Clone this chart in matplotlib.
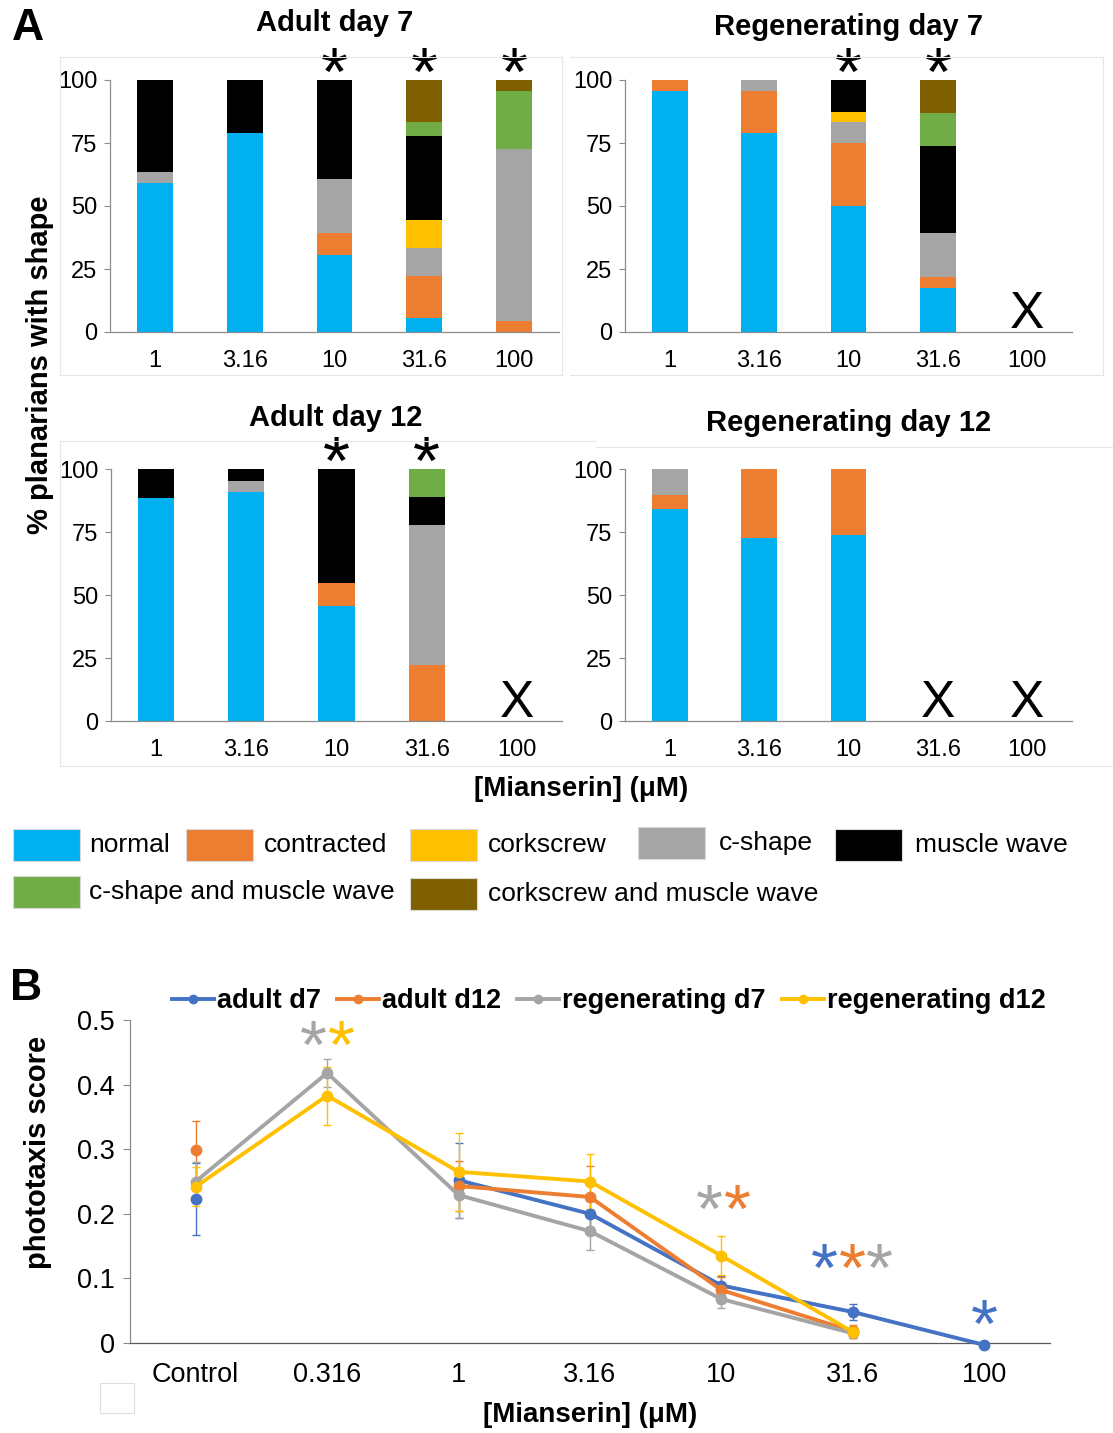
import matplotlib
matplotlib.use('Agg')
import matplotlib.pyplot as plt
import numpy as np
from matplotlib.patches import Rectangle
from matplotlib.lines import Line2D
from matplotlib.transforms import offset_copy

plt.rcParams['font.family'] = ['Liberation Sans', 'DejaVu Sans']

# ---------------- data ----------------
concentrations = ['1', '3.16', '10', '31.6', '100']
shape_names = ['normal', 'contracted', 'c-shape', 'corkscrew', 'muscle wave',
               'c-shape and muscle wave', 'corkscrew and muscle wave']
shape_colors = ['#00B0F0', '#ED7D31', '#A5A5A5', '#FFC000', '#000000',
                '#70AD47', '#7F6000']

adult_d7 = {
    'normal':                    [59.1, 78.9, 30.4, 5.6, 0],
    'contracted':                [0, 0, 8.7, 16.7, 4.5],
    'c-shape':                   [4.5, 0, 21.7, 11.1, 68.2],
    'corkscrew':                 [0, 0, 0, 11.1, 0],
    'muscle wave':               [36.4, 21.1, 39.2, 33.3, 0],
    'c-shape and muscle wave':   [0, 0, 0, 5.6, 22.8],
    'corkscrew and muscle wave': [0, 0, 0, 16.6, 4.5],
}
regen_d7 = {
    'normal':                    [95.7, 79.0, 50.0, 17.4, 0],
    'contracted':                [4.3, 16.6, 25.0, 4.3, 0],
    'c-shape':                   [0, 4.4, 8.3, 17.4, 0],
    'corkscrew':                 [0, 0, 4.2, 0, 0],
    'muscle wave':               [0, 0, 12.5, 34.8, 0],
    'c-shape and muscle wave':   [0, 0, 0, 13.0, 0],
    'corkscrew and muscle wave': [0, 0, 0, 13.1, 0],
}
adult_d12 = {
    'normal':                    [88.5, 90.9, 45.5, 0, 0],
    'contracted':                [0, 0, 9.1, 22.2, 0],
    'c-shape':                   [0, 4.5, 0, 55.6, 0],
    'corkscrew':                 [0, 0, 0, 0, 0],
    'muscle wave':               [11.5, 4.6, 45.4, 11.1, 0],
    'c-shape and muscle wave':   [0, 0, 0, 11.1, 0],
    'corkscrew and muscle wave': [0, 0, 0, 0, 0],
}
regen_d12 = {
    'normal':                    [84.2, 72.7, 73.9, 0, 0],
    'contracted':                [5.3, 27.3, 26.1, 0, 0],
    'c-shape':                   [10.5, 0, 0, 0, 0],
    'corkscrew':                 [0, 0, 0, 0, 0],
    'muscle wave':               [0, 0, 0, 0, 0],
    'c-shape and muscle wave':   [0, 0, 0, 0, 0],
    'corkscrew and muscle wave': [0, 0, 0, 0, 0],
}

doses = ['Control', '0.316', '1', '3.16', '10', '31.6', '100']
series_names = ['adult d7', 'adult d12', 'regenerating d7', 'regenerating d12']
series_colors = ['#4472C4', '#ED7D31', '#A5A5A5', '#FFC000']
adult_d7_score = [0.223, np.nan, 0.252, 0.200, 0.089, 0.048, -0.003]
adult_d7_err = [0.056, np.nan, 0.058, 0.020, 0.015, 0.012, 0.0]
adult_d12_score = [0.298, np.nan, 0.243, 0.226, 0.082, 0.018, np.nan]
adult_d12_err = [0.046, np.nan, 0.038, 0.048, 0.020, 0.010, np.nan]
regen_d7_score = [0.250, 0.418, 0.229, 0.173, 0.068, 0.015, np.nan]
regen_d7_err = [0.030, 0.022, 0.036, 0.029, 0.014, 0.008, np.nan]
regen_d12_score = [0.242, 0.383, 0.265, 0.250, 0.135, 0.017, np.nan]
regen_d12_err = [0.030, 0.045, 0.060, 0.043, 0.030, 0.010, np.nan]

# ---------------- layout helpers ----------------
W, H = 1113, 1433
fig = plt.figure(figsize=(W / 100, H / 100), dpi=100)


def fx(x):
    return x / W


def fy(y):
    return 1 - y / H


def axrect(x0, y0, x1, y1):
    return [fx(x0), fy(y1), (x1 - x0) / W, (y1 - y0) / H]


STAR_FS = 50


def star(ax, x, y, color, fs=STAR_FS):
    # place the visual centre of the asterisk at (x, y) in data coords
    tr = offset_copy(ax.transData, fig=fig, y=-0.5 * fs, units='points')
    ax.text(x, y, '*', transform=tr, ha='center', va='baseline',
            fontsize=fs, color=color, clip_on=False)


# faint chart-area frames (drawn as line segments)
FRAME = '#e6e6e6'
frame_segments = [
    # adult day 7
    [(60, 57), (562, 57)], [(60, 57), (60, 375)], [(562, 57), (562, 375)],
    [(60, 375), (562, 375)],
    # regenerating day 7
    [(570, 57), (1103, 57)], [(1103, 57), (1103, 375)], [(570, 375), (1103, 375)],
    # adult day 12
    [(60, 441), (596, 441)], [(60, 441), (60, 766)], [(60, 766), (596, 766)],
    # regenerating day 12
    [(596, 447), (1113, 447)], [(596, 766), (1113, 766)],
]
for (a, b) in frame_segments:
    fig.add_artist(Line2D([fx(a[0]), fx(b[0])], [fy(a[1]), fy(b[1])],
                          transform=fig.transFigure, color=FRAME, lw=0.8))
fig.add_artist(Rectangle((fx(100), fy(1413)), 34 / W, 30 / H,
                         transform=fig.transFigure, fill=False,
                         edgecolor='#dedede', linewidth=0.8))


def bar_panel(rect, title, title_xy, data, stars, xmarks):
    ax = fig.add_axes(rect)
    ax.patch.set_alpha(0)
    x = np.arange(len(concentrations))
    bottom = np.zeros(len(concentrations))
    for name, color in zip(shape_names, shape_colors):
        vals = np.array(data[name], dtype=float)
        ax.bar(x, vals, 0.4, bottom=bottom, color=color, linewidth=0)
        bottom += vals
    ax.set_xlim(-0.5, 4.5)
    ax.set_ylim(0, 100)
    ax.set_yticks([0, 25, 50, 75, 100])
    ax.set_xticks(x)
    ax.set_xticklabels(concentrations)
    ax.tick_params(axis='x', length=0, pad=13, labelsize=17)
    ax.tick_params(axis='y', length=4, width=0.8, color='#8c8c8c',
                   labelsize=17, pad=5)
    for s in ['top', 'right']:
        ax.spines[s].set_visible(False)
    for s in ['left', 'bottom']:
        ax.spines[s].set_color('#8c8c8c')
        ax.spines[s].set_linewidth(0.9)
    for i in stars:
        star(ax, i, 108, 'black')
    for i in xmarks:
        ax.text(i, 1.6, 'X', ha='center', va='baseline', fontsize=37,
                color='black')
    fig.text(fx(title_xy[0]), fy(title_xy[1]), title, ha='center',
             va='center', fontsize=21, fontweight='bold')
    return ax


bar_panel(axrect(110, 80, 559, 332), 'Adult day 7', (335, 23), adult_d7,
          [2, 3, 4], [])
bar_panel(axrect(625, 80, 1072, 332), 'Regenerating day 7', (849, 27),
          regen_d7, [2, 3], [4])
bar_panel(axrect(111, 469, 562, 721), 'Adult day 12', (336, 418),
          adult_d12, [2, 3], [4])
bar_panel(axrect(625, 469, 1072, 721), 'Regenerating day 12', (849, 423),
          regen_d12, [], [3, 4])

fig.text(fx(40), fy(365), '% planarians with shape', rotation=90,
         ha='center', va='center', fontsize=21, fontweight='bold')
fig.text(fx(581), fy(789), '[Mianserin] (μM)', ha='center', va='center',
         fontsize=20, fontweight='bold')
fig.text(fx(12), fy(28), 'A', ha='left', va='center', fontsize=32,
         fontweight='bold')
fig.text(fx(10), fy(988), 'B', ha='left', va='center', fontsize=32,
         fontweight='bold')

# legend for panel A (manual flow layout)
legend_items = [
    (0, 13, 89, 845), (1, 186, 264, 845), (3, 410, 488, 845),
    (2, 638, 719, 843), (4, 835, 915, 845),
    (5, 13, 89, 892), (6, 410, 488, 894),
]
for idx, px, tx, cy in legend_items:
    fig.add_artist(Rectangle((fx(px), fy(cy + 16)), 67 / W, 32 / H,
                             transform=fig.transFigure,
                             facecolor=shape_colors[idx],
                             edgecolor='#d9d9d9', linewidth=0.8))
    fig.text(fx(tx), fy(cy), shape_names[idx], ha='left', va='center',
             fontsize=19)

# ---------------- panel B ----------------
axb = fig.add_axes(axrect(130, 1020, 1050, 1343))
xb = np.arange(len(doses))
scores = [adult_d7_score, adult_d12_score, regen_d7_score, regen_d12_score]
errs = [adult_d7_err, adult_d12_err, regen_d7_err, regen_d12_err]
handles = []
for sc, er, col, name in zip(scores, errs, series_colors, series_names):
    axb.errorbar(xb, sc, yerr=er, fmt='none', ecolor=col, elinewidth=1.0,
                 capsize=3, capthick=1.0, clip_on=False)
    axb.plot(xb, sc, '-o', color=col, lw=2.8, ms=7.5, clip_on=False,
             zorder=3)
    handles.append(Line2D([], [], color=col, lw=2.8, marker='o', ms=6))
axb.set_xlim(-0.5, 6.5)
axb.set_ylim(0, 0.5)
axb.set_yticks([0, 0.1, 0.2, 0.3, 0.4, 0.5])
axb.set_yticklabels(['0', '0.1', '0.2', '0.3', '0.4', '0.5'])
axb.set_xticks(xb)
axb.set_xticklabels(doses)
axb.tick_params(axis='x', length=0, pad=14, labelsize=19.5)
axb.tick_params(axis='y', length=5, width=0.8, color='#8c8c8c',
                labelsize=19.5, pad=6)
for s in ['top', 'right']:
    axb.spines[s].set_visible(False)
axb.spines['left'].set_color('#8c8c8c')
axb.spines['bottom'].set_color('#595959')
axb.spines['left'].set_linewidth(0.9)
axb.spines['bottom'].set_linewidth(0.9)
axb.set_xlabel('[Mianserin] (μM)', fontsize=20, fontweight='bold',
               labelpad=10)
fig.text(fx(38), fy(1152), 'phototaxis score', rotation=90, ha='center',
         va='center', fontsize=21, fontweight='bold')

fig.legend(handles, series_names, loc='center',
           bbox_to_anchor=(fx(609), fy(1001)), ncol=4, frameon=False,
           handlelength=1.55, handletextpad=0.1, columnspacing=0.6,
           prop={'weight': 'bold', 'size': 19.5}, borderaxespad=0)

b_stars = [
    (1 - 0.107, 0.48, 2), (1 + 0.107, 0.48, 3),
    (4 - 0.09, 0.226, 2), (4 + 0.12, 0.226, 1),
    (5 - 0.22, 0.135, 0), (5 + 0.0, 0.135, 1), (5 + 0.2, 0.135, 2),
    (6, 0.048, 0),
]
for sx, sy, ci in b_stars:
    star(axb, sx, sy, series_colors[ci])

fig.savefig('out.png', dpi=100)
